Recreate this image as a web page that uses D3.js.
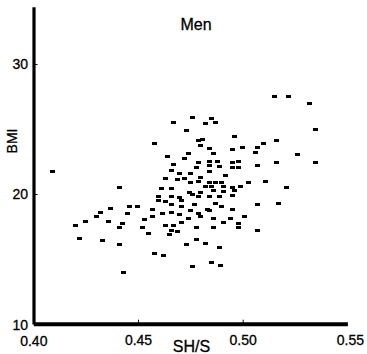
<!DOCTYPE html>
<html>
<head>
<meta charset="utf-8">
<script src="https://cdn.jsdelivr.net/npm/d3@7"></script>
<style>
  html, body { margin: 0; padding: 0; background: #fff; }
  svg { display: block; font-family: "Liberation Sans", Arial, sans-serif; }
  svg text { stroke: #000; stroke-width: 0.3px; fill: #000; }
</style>
</head>
<body>
<div id="chart"></div>
<script>
const title = 'Men';
const xLabel = 'SH/S';
const yLabel = 'BMI';
const xTicks = [0.40, 0.45, 0.50, 0.55];
const yTicks = [10, 20, 30];

// sitting height / stature ratio
const shRatio = [
  0.409, 0.420, 0.422, 0.425, 0.430, 0.432, 0.433, 0.436, 0.437, 0.441,
  0.441, 0.441, 0.4425, 0.443, 0.445, 0.446, 0.450, 0.452, 0.453, 0.455,
  0.457, 0.457, 0.458, 0.460, 0.460, 0.461, 0.4615, 0.462, 0.463, 0.463,
  0.465, 0.466, 0.466, 0.466, 0.466, 0.466, 0.467, 0.469, 0.470, 0.470,
  0.471, 0.471, 0.473, 0.474, 0.4745, 0.475, 0.476, 0.476, 0.477, 0.478,
  0.479, 0.479, 0.458, 0.463, 0.464, 0.466, 0.467, 0.467, 0.469, 0.470,
  0.472, 0.472, 0.473, 0.474, 0.475, 0.475, 0.476, 0.478, 0.479, 0.479,
  0.480, 0.480, 0.479, 0.481, 0.485, 0.487, 0.482, 0.535, 0.496, 0.484,
  0.500, 0.507, 0.495, 0.506, 0.486, 0.526, 0.484, 0.488, 0.484, 0.489,
  0.495, 0.498, 0.516, 0.535, 0.507, 0.495, 0.498, 0.484, 0.492, 0.484,
  0.487, 0.490, 0.503, 0.511, 0.499, 0.485, 0.491, 0.495, 0.486, 0.491,
  0.496, 0.480, 0.484, 0.489, 0.495, 0.521, 0.471, 0.487, 0.517, 0.507,
  0.483, 0.490, 0.495, 0.484, 0.480, 0.486, 0.494, 0.501, 0.491, 0.498,
  0.486, 0.498, 0.507, 0.478, 0.482, 0.489, 0.485, 0.4895, 0.515, 0.522,
  0.532, 0.516, 0.510, 0.482
];

// body mass index, same order
const bmiValues = [
  21.7, 17.6, 16.6, 17.9, 18.3, 18.6, 16.4, 17.9, 18.9, 20.5,
  17.4, 16.1, 17.7, 14.0, 18.5, 19.0, 19.0, 17.4, 18.0, 17.0,
  18.3, 18.8, 15.4, 19.5, 19.8, 20.4, 18.5, 15.3, 17.6, 19.4,
  16.9, 19.2, 19.8, 18.6, 17.2, 20.4, 17.6, 17.1, 18.4, 19.7,
  19.0, 17.8, 16.1, 18.1, 20.1, 18.7, 20.0, 14.4, 19.2, 17.4,
  19.8, 18.5, 23.9, 21.2, 22.9, 21.8, 22.3, 25.5, 21.1, 21.6,
  22.7, 21.2, 24.9, 23.1, 21.6, 20.9, 25.9, 22.0, 22.4, 24.1,
  23.7, 21.3, 21.0, 24.2, 25.8, 25.5, 25.4, 25.0, 24.4, 23.5,
  23.6, 23.6, 23.4, 23.2, 23.1, 23.0, 22.5, 22.5, 22.2, 22.1,
  22.4, 22.5, 22.4, 22.4, 22.2, 22.0, 22.0, 21.7, 21.4, 20.9,
  20.9, 20.9, 20.9, 21.0, 20.6, 20.6, 20.6, 20.5, 20.3, 20.2,
  20.3, 20.1, 19.8, 19.8, 19.9, 20.5, 19.5, 19.3, 19.3, 19.2,
  18.8, 19.0, 18.8, 18.7, 18.3, 18.1, 18.1, 18.3, 17.8, 17.7,
  17.4, 17.4, 17.2, 16.5, 16.2, 15.9, 14.7, 14.5, 27.5, 27.5,
  27.0, 24.1, 23.9, 20.6
];

const width = 367;
const height = 354;

const points = shRatio.map((sh, i) => ({ sh, bmi: bmiValues[i] }));

const x = d3.scaleLinear().domain([0.40, 0.55]).range([33.3, 347.4]);
const y = d3.scaleLinear().domain([10, 34.4]).range([324, 6.8]);

const svg = d3.select('#chart').append('svg').attr('width', width).attr('height', height);

// y axis: ticks point inward, labels to the left
const yAxis = svg
  .append('g')
  .attr('transform', 'translate(33.5,0)')
  .call(d3.axisLeft(y).tickValues(yTicks).tickSizeInner(-4).tickSizeOuter(0).tickPadding(5.5));
yAxis.select('.domain').attr('stroke', '#000').attr('stroke-width', 3.2);
yAxis.selectAll('.tick text').attr('font-size', 14).attr('font-family', '"Liberation Sans", Arial, sans-serif');
yAxis.selectAll('.tick').filter((d) => d === 10).select('line').remove();
yAxis.selectAll('.tick').filter((d) => d === 10).select('text').attr('dy', '0.36em');

const xAxis = svg
  .append('g')
  .attr('transform', 'translate(0,323.7)')
  .call(d3.axisBottom(x).tickValues(xTicks).tickFormat(d3.format('.2f')).tickSizeInner(-4).tickSizeOuter(0).tickPadding(11));
xAxis.select('.domain').attr('stroke', '#000').attr('stroke-width', 4);
xAxis.selectAll('.tick text').attr('font-size', 14).attr('font-family', '"Liberation Sans", Arial, sans-serif');
xAxis.selectAll('.tick').filter((d) => d === 0.40 || d === 0.55).select('line').remove();
xAxis.selectAll('.tick').filter((d) => d === 0.55).select('text').attr('dx', 2.5);
xAxis.selectAll('.tick').filter((d) => d === 0.40).select('text').attr('dy', '0.78em');

svg
  .append('g')
  .selectAll('rect')
  .data(points)
  .join('rect')
  .attr('x', (d) => Math.round(x(d.sh) - 2.5))
  .attr('y', (d) => Math.round(y(d.bmi) - 1.5))
  .attr('width', 5)
  .attr('height', 3)
  .attr('fill', '#000')
  .attr('shape-rendering', 'crispEdges');

svg.append('text').attr('x', 196).attr('y', 30).attr('text-anchor', 'middle').attr('font-size', 16).text(title);
svg.append('text').attr('x', 191.5).attr('y', 351.5).attr('text-anchor', 'middle').attr('font-size', 16).text(xLabel);
svg
  .append('text')
  .attr('transform', 'translate(16.5,141) rotate(-90)')
  .attr('text-anchor', 'middle')
  .attr('font-size', 14)
  .text(yLabel);
</script>
</body>
</html>
